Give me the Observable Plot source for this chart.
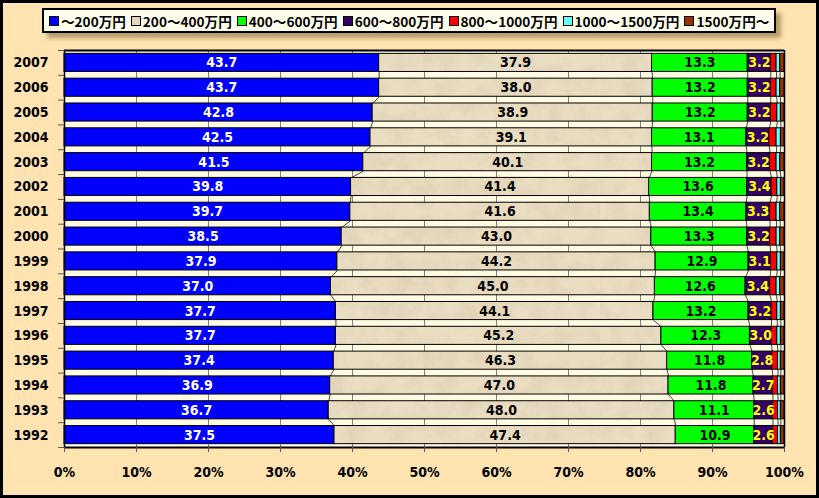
<!DOCTYPE html>
<html>
<head>
<meta charset="utf-8">
<script src="https://cdn.jsdelivr.net/npm/d3@7"></script>
<script src="https://cdn.jsdelivr.net/npm/@observablehq/plot@0.6"></script>
<style>
  html, body { margin: 0; padding: 0; background: #fff; }
  #wrap { position: relative; width: 819px; height: 498px; box-sizing: border-box;
          background: #FFE3B0; border: 3px solid #000; overflow: hidden; }
  #chart { position: absolute; left: -3px; top: -3px; width: 819px; height: 498px; }
  #chart svg { max-width: none !important; }
  #legend { position: absolute; left: 39px; top: 5px; width: 723px; height: 21px;
            box-sizing: content-box; border: 2px solid #000; background: #FFFFEE;
            box-shadow: 5px 5px 4px rgba(120, 100, 50, 0.55);
            display: flex; align-items: center; padding: 0 2px 0 5px;
            font-family: "Noto Sans CJK JP", sans-serif; font-weight: bold; font-size: 13.6px;
            white-space: nowrap; z-index: 2; }
  .item { display: flex; align-items: center; margin-right: 5px; }
  .sw { width: 8px; height: 8px; border: 1px solid #000; margin-right: 2px; }
</style>
</head>
<body>
<div id="wrap">
  <div id="legend"></div>
  <div id="chart"></div>
</div>
<script>
const years = [2007, 2006, 2005, 2004, 2003, 2002, 2001, 2000, 1999, 1998, 1997, 1996, 1995, 1994, 1993, 1992];
const seriesNames = ["～200万円", "200～400万円", "400～600万円", "600～800万円", "800～1000万円", "1000～1500万円", "1500万円～"];
const s200   = [43.7, 43.7, 42.8, 42.5, 41.5, 39.8, 39.7, 38.5, 37.9, 37.0, 37.7, 37.7, 37.4, 36.9, 36.7, 37.5];
const s400   = [37.9, 38.0, 38.9, 39.1, 40.1, 41.4, 41.6, 43.0, 44.2, 45.0, 44.1, 45.2, 46.3, 47.0, 48.0, 47.4];
const s600   = [13.3, 13.2, 13.2, 13.1, 13.2, 13.6, 13.4, 13.3, 12.9, 12.6, 13.2, 12.3, 11.8, 11.8, 11.1, 10.9];
const s800   = [3.2, 3.2, 3.2, 3.2, 3.2, 3.4, 3.3, 3.2, 3.1, 3.4, 3.2, 3.0, 2.8, 2.7, 2.6, 2.6];
const s1000  = [0.8, 0.8, 0.9, 1.0, 0.9, 0.8, 0.9, 0.9, 0.9, 0.9, 0.8, 0.8, 0.8, 0.7, 0.7, 0.7];
const s1500  = [0.5, 0.5, 0.5, 0.6, 0.5, 0.5, 0.5, 0.5, 0.5, 0.5, 0.5, 0.5, 0.4, 0.4, 0.4, 0.4];
const sOver  = [0.6, 0.6, 0.5, 0.5, 0.6, 0.5, 0.6, 0.6, 0.5, 0.6, 0.5, 0.5, 0.5, 0.5, 0.5, 0.5];
const xTicks = [0, 10, 20, 30, 40, 50, 60, 70, 80, 90, 100];

const seriesValues = [s200, s400, s600, s800, s1000, s1500, sOver];
const colors = ["#0000FF", "url(#parch)", "#00FF00", "#330066", "#FF0000", "#66FFFF", "#993300"];
const swatchColors = ["#0000FF", "#E4D6BA", "#00FF00", "#330066", "#FF0000", "#66FFFF", "#993300"];
const labelColors = ["#FFFFFF", "#000000", "#000000", "#FFFF00"];

// legend
const legend = document.getElementById("legend");
seriesNames.forEach((n, k) => {
  const it = document.createElement("div");
  it.className = "item";
  it.innerHTML = `<span class="sw" style="background:${swatchColors[k]}"></span><span>${n}</span>`;
  legend.appendChild(it);
});

// data
const H = 0.365;
const segs = [];
const cums = [];
years.forEach((yr, i) => {
  const total = seriesValues.reduce((a, s) => a + s[i], 0);
  let acc = 0;
  const c = [];
  seriesValues.forEach((s, k) => {
    const x1 = acc / total * 100;
    acc += s[i];
    const x2 = acc / total * 100;
    c.push(x2);
    segs.push({i, year: yr, series: seriesNames[k], k, value: s[i], x1, x2});
  });
  cums.push(c);
});
const links = [];
for (let i = 0; i < years.length - 1; i++) {
  for (let k = 0; k < 6; k++) {
    links.push({xa: cums[i][k], ya: i + H, xb: cums[i + 1][k], yb: i + 1 - H});
  }
}
const labels = segs.filter(d => d.k < 4);
const bounds = d3.range(-0.5, 16, 1);

const chart = Plot.plot({
  width: 819,
  height: 498,
  marginLeft: 64,
  marginRight: 35,
  marginTop: 50,
  marginBottom: 51,
  style: {fontFamily: "'DejaVu Sans Condensed', 'DejaVu Sans', sans-serif", fontSize: "14px", fontWeight: "bold", background: "transparent", color: "#000"},
  x: {domain: [0, 100], axis: null},
  y: {domain: [15.5, -0.5], axis: null},
  color: {domain: seriesNames, range: colors},
  marks: [
    Plot.rect([0], {x1: 0, x2: 100, y1: -0.5, y2: 15.5, fill: "#FFFBE3"}),
    Plot.ruleX(xTicks.filter(t => t > 0 && t < 100), {stroke: "#808080", strokeWidth: 1}),
    Plot.link(links, {x1: "xa", y1: "ya", x2: "xb", y2: "yb", stroke: "#444", strokeWidth: 1}),
    Plot.rect(segs, {x1: "x1", x2: "x2", y1: d => d.i - H, y2: d => d.i + H, fill: "series", stroke: "#000", strokeWidth: 1}),
    Plot.text(labels, {x: d => (d.x1 + d.x2) / 2, y: "i", text: d => d.value.toFixed(1), fill: d => labelColors[d.k], fontWeight: "bold", fontSize: 14}),
    Plot.ruleX([0], {stroke: "#000", strokeWidth: 1.5}),
    Plot.ruleX([100], {stroke: "#000", strokeWidth: 1.5}),
    Plot.ruleY([-0.5], {stroke: "#000", strokeWidth: 2}),
    Plot.ruleY([15.5], {stroke: "#000", strokeWidth: 2}),
    Plot.axisY(bounds, {tickSize: 6, tickFormat: () => "", stroke: "#555"}),
    Plot.axisY(d3.range(16), {tickSize: 0, tickPadding: 16, tickFormat: i => String(years[i]), fontWeight: "bold", fontSize: 14}),
    Plot.axisX(xTicks, {tickSize: 5, tickPadding: 15, tickFormat: t => t + "%", fontWeight: "bold", fontSize: 14, stroke: "#555"})
  ]
});

// parchment texture pattern
const ns = "http://www.w3.org/2000/svg";
const defs = document.createElementNS(ns, "defs");
defs.innerHTML = `
  <filter id="noise" x="0" y="0" width="100%" height="100%">
    <feTurbulence type="fractalNoise" baseFrequency="0.045" numOctaves="4" seed="7" result="t"/>
    <feColorMatrix type="matrix" values="0 0 0 0 0.66  0 0 0 0 0.56  0 0 0 0 0.40  0 0 0 -1.8 1.15"/>
  </filter>
  <pattern id="parch" patternUnits="userSpaceOnUse" x="0" y="0" width="300" height="300">
    <rect width="300" height="300" fill="#EADDC1"/>
    <rect width="300" height="300" filter="url(#noise)" opacity="0.5"/>
  </pattern>`;
chart.insertBefore(defs, chart.firstChild);
document.getElementById("chart").appendChild(chart);
</script>
</body>
</html>
